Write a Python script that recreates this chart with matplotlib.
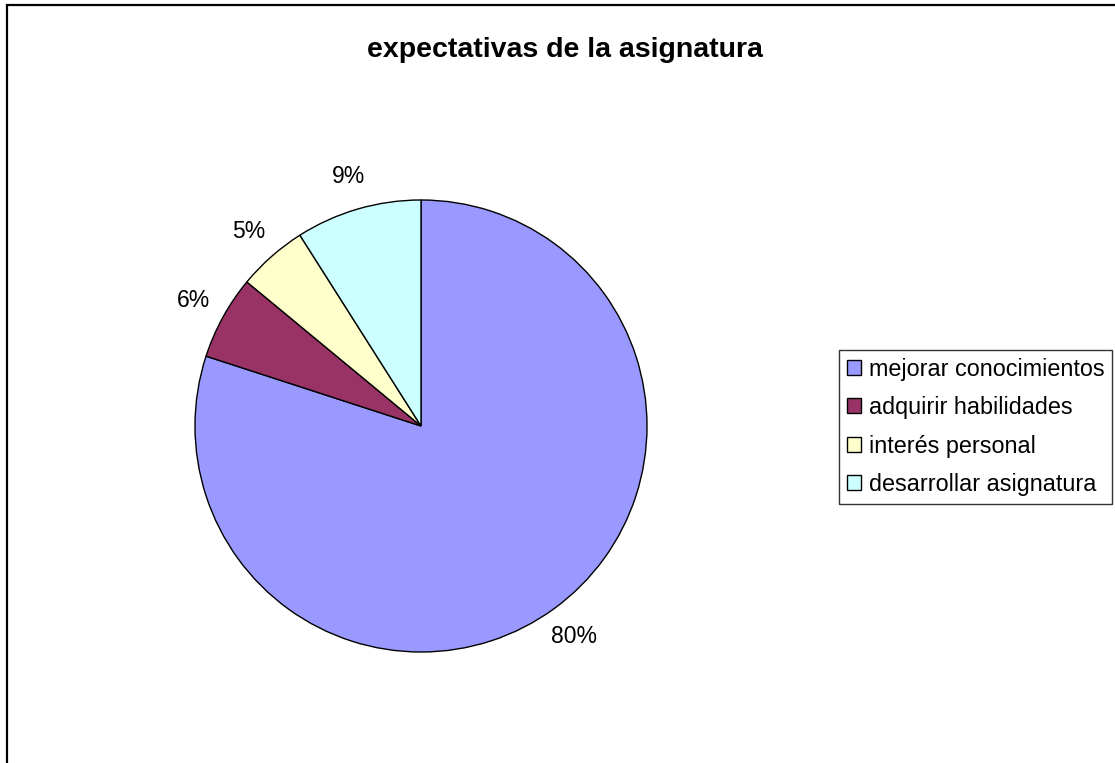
import matplotlib.pyplot as plt
from matplotlib.patches import Rectangle

categorias = ['mejorar conocimientos', 'adquirir habilidades', 'interés personal', 'desarrollar asignatura']
valores = [80, 6, 5, 9]
colores = ['#9999FF', '#993366', '#FFFFCC', '#CCFFFF']

plt.rcParams['font.family'] = ['Liberation Sans', 'DejaVu Sans']

W, H = 1115, 763
fig = plt.figure(figsize=(W / 100, H / 100), dpi=100)

# marco del grafico (se sale por la derecha y por abajo)
fig.patches.append(Rectangle((7 / W, -0.05), 1.1, 1 - 5 / H + 0.05, transform=fig.transFigure,
                             fill=False, edgecolor='black', linewidth=1.6))

ax = fig.add_axes([195 / W, (H - 652) / H, 452 / W, 452 / H])
wedges, textos, pcts = ax.pie(valores, colors=colores, startangle=90, counterclock=False,
                              autopct='%1.0f%%', pctdistance=1.15, radius=1,
                              wedgeprops=dict(edgecolor='black', linewidth=1.0))
for t in pcts:
    t.set_fontsize(16.5)
ax.set_xlim(-1, 1)
ax.set_ylim(-1, 1)
ax.set_aspect('equal')

fig.text(565 / W, 1 - 50 / H, 'expectativas de la asignatura', ha='center', va='center',
         fontsize=20.5, fontweight='bold')

leg = fig.legend(wedges, categorias, loc='upper right', bbox_to_anchor=(1112 / W, 1 - 350 / H),
                 fontsize=16.8, frameon=True, fancybox=False, handlelength=0.6, handleheight=0.6,
                 handletextpad=0.35, labelspacing=0.66, borderpad=0.33, borderaxespad=0)
leg.get_frame().set_edgecolor('black')
leg.get_frame().set_linewidth(1.0)

fig.savefig('out.png', dpi=100)
